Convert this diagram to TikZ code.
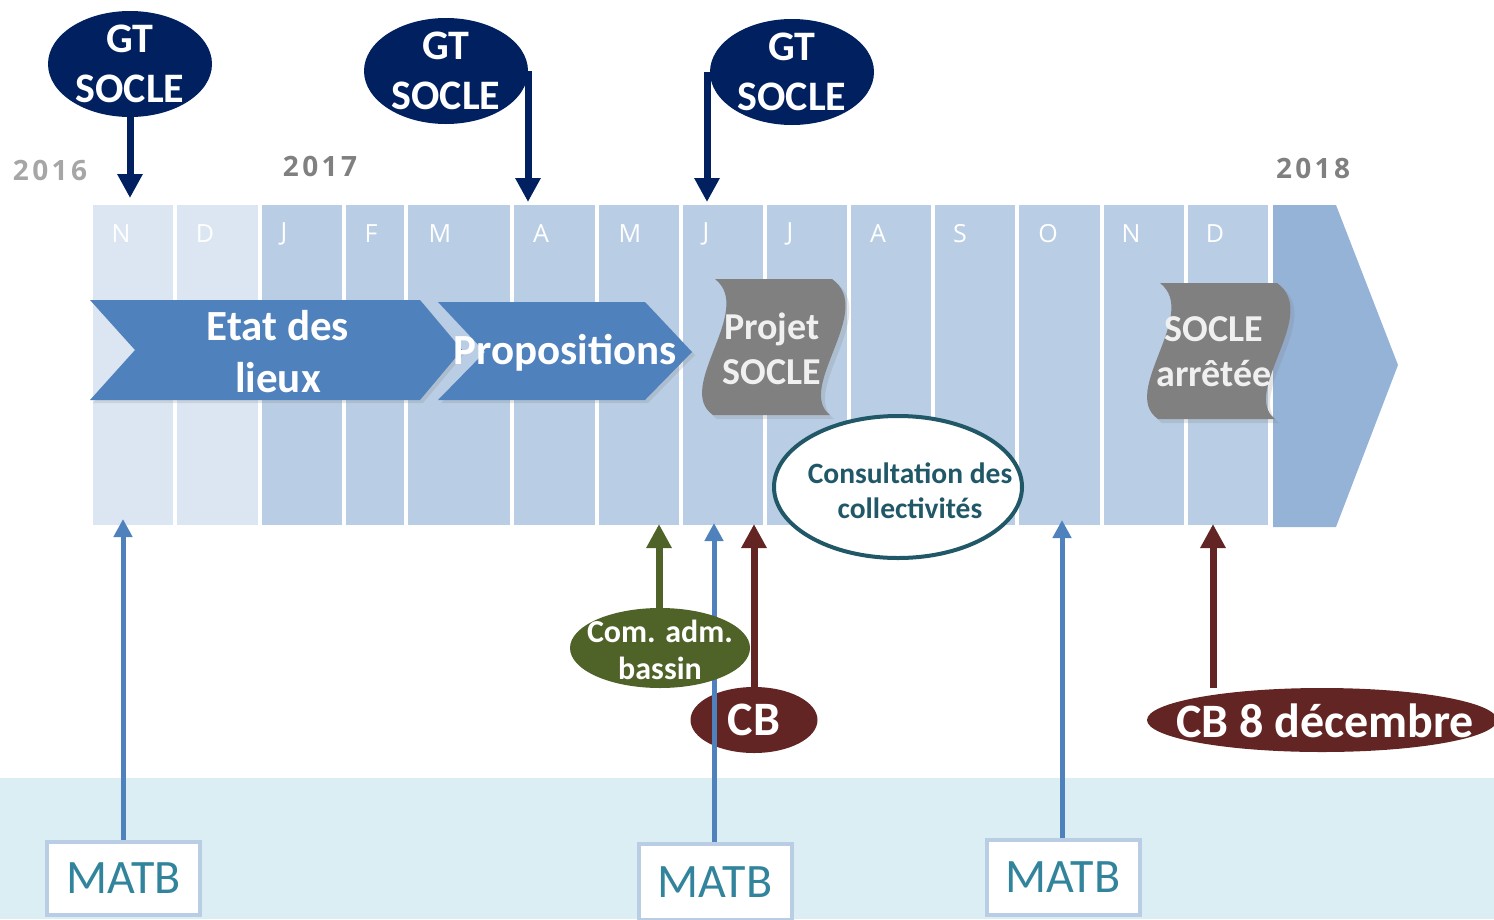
\documentclass[tikz,border=0pt]{standalone}
\usepackage{fontspec}
\setmainfont{Carlito}
\newfontfamily\monthfont{Open Sans}
\newfontfamily\yearfont[LetterSpace=12]{Open Sans}
\usetikzlibrary{arrows.meta, shapes.geometric, shadows}

\definecolor{gtblue}{HTML}{002060}
\definecolor{chevblue}{HTML}{4F81BD}
\definecolor{colblue}{HTML}{B9CDE5}
\definecolor{collight}{HTML}{DCE6F2}
\definecolor{endblue}{HTML}{95B3D7}
\definecolor{wavegrey}{HTML}{808080}
\definecolor{consteal}{HTML}{215868}
\definecolor{comgreen}{HTML}{4F6228}
\definecolor{cbred}{HTML}{632523}
\definecolor{bandblue}{HTML}{DBEEF4}
\definecolor{matbteal}{HTML}{31849B}

\begin{document}
\begin{tikzpicture}[x=1pt,y=-1pt,
    every node/.style={inner sep=0pt},
    month/.style={text=white, font=\monthfont\fontsize{25}{25}\selectfont},
    year/.style={font=\yearfont\bfseries\fontsize{28}{28}\selectfont},
    chev/.style={fill=chevblue, drop shadow={opacity=0.2, shadow xshift=3pt, shadow yshift=-3pt}},
    chevtext/.style={text=white, align=center, font=\bfseries\fontsize{43}{52}\selectfont},
    wave/.style={fill=wavegrey, drop shadow={opacity=0.2, shadow xshift=4pt, shadow yshift=-4pt}},
    wavetext/.style={text=white!94!black, align=center, font=\bfseries\fontsize{38}{45}\selectfont},
    gt/.style={ellipse, fill=gtblue, minimum width=164pt, minimum height=106pt},
    gttext/.style={text=white, align=center, font=\bfseries\fontsize{42}{50}\selectfont},
    gtarrow/.style={draw=gtblue, line width=7pt, -{Triangle[width=24pt,length=24pt]}},
    event/.style={ellipse, fill=#1},
    evtext/.style={text=white, align=center},
    evarrow/.style={draw=#1, line width=7pt, -{Triangle[width=24pt,length=24pt]}},
    matb/.style={draw=colblue, line width=4pt, fill=white, text=matbteal,
      minimum width=153pt, font=\fontsize{48}{48}\selectfont},
    matbarrow/.style={draw=chevblue, line width=5pt, -{Triangle[width=18pt,length=18pt]}}
  ]
  \useasboundingbox (0,0) rectangle (1494,919);

  % bande du bas
  \fill[bandblue] (0,778) rectangle (1494,919);

  % frise des mois
  \fill[colblue] (93,205) rectangle (1272,525);
  \fill[collight] (93,205) rectangle (260,525);
  \fill[endblue] (1273,205) -- (1336,205) -- (1398,365) -- (1336,527) -- (1273,527) -- cycle;
  \foreach \x in {175,260,344,406,512,597,681,765,849,933,1017,1102,1186,1270}
    \draw[white, line width=3.5pt] (\x,205) -- (\x,525);
  \foreach \x/\m in {121/N, 205/D, 284/J, 371/F, 440/M, 541/A, 630/M, 706/J,
                     790/J, 878/A, 960/S, 1048/O, 1131/N, 1215/D}
    \node[month] at (\x,234) {\m};

  \node[year, text=black!35] (y2016) at (50,170) {2016};
  \node[year, text=black!50] (y2017) at (320,166) {2017};
  \node[year, text=black!50] (y2018) at (1313,168) {2018};

  % phases
  \fill[chev] (90,300) -- (420,300) -- (462,350) -- (420,400) -- (90,400) -- (135,350) -- cycle;
  \fill[chev] (438,302) -- (645,302) -- (692,352) -- (645,400) -- (438,400) -- (485,352) -- cycle;
  \node[chevtext] (etat) at (278,352) {Etat des\\lieux};
  \node[chevtext] (prop) at (565,353) {Propositions};

  \fill[wave] (715,279) -- (832,279) .. controls (876,310) and (795,388) .. (830,415)
    -- (713,415) .. controls (674,388) and (755,310) .. (715,279) -- cycle;
  \begin{scope}[shift={(445,4)}]
    \fill[wave] (715,279) -- (832,279) .. controls (876,310) and (795,388) .. (830,415)
      -- (713,415) .. controls (674,388) and (755,310) .. (715,279) -- cycle;
  \end{scope}
  \node[wavetext] (projet) at (772,349) {Projet\\SOCLE};
  \node[wavetext] (arrete) at (1214,352) {SOCLE\\arrêtée};

  \node[ellipse, draw=consteal, line width=4pt, fill=white,
    minimum width=248pt, minimum height=142pt] (consult) at (898,487) {};
  \node[text=consteal, align=center, font=\bfseries\fontsize{29.5}{35}\selectfont]
    (consulttext) at (910,491) {Consultation des\\collectivités};

  % GT SOCLE
  \node[gt] (gt1) at (130,64) {};
  \node[gt] (gt2) at (446,71) {};
  \node[gt] (gt3) at (792,72) {};
  \node[gttext] at (gt1) {GT\\SOCLE};
  \node[gttext] at (gt2) {GT\\SOCLE};
  \node[gttext] at (gt3) {GT\\SOCLE};
  \coordinate (t1) at (130,198);
  \coordinate (t2) at (528,202);
  \coordinate (t3) at (707,202);
  \draw[gtarrow] (gt1.south) -- (t1);
  \draw[gtarrow] (t2 |- gt2.east) -- (t2);
  \draw[gtarrow] (t3 |- gt3.west) -- (t3);

  % CB
  \node[event=cbred, minimum width=127pt, minimum height=66pt] (cb) at (754,720) {};
  \node[event=cbred, minimum width=350pt, minimum height=64pt] (cb8) at (1322,720) {};
  \node[evtext, font=\bfseries\fontsize{48}{48}\selectfont] at (cb) {CB};
  \node[evtext, font=\bfseries\fontsize{48}{48}\selectfont] at (1325,721) {CB 8 décembre};
  \coordinate (tcb) at (754,524);
  \coordinate (tcb8) at (1213,524);
  \draw[evarrow=cbred] (tcb |- cb.north) -- (tcb);
  \draw[evarrow=cbred] (tcb8 |- cb8.north) -- (tcb8);

  % MATB
  \node[matb, minimum height=73pt] (matb1) at (123.5,878.5) {MATB};
  \node[matb, minimum height=76pt] (matb2) at (715,882) {MATB};
  \node[matb, minimum height=75pt] (matb3) at (1063,877.5) {MATB};
  \coordinate (tm1) at (123,519);
  \coordinate (tm2) at (714,523);
  \coordinate (tm3) at (1062,520);
  \draw[matbarrow] (tm1 |- matb1.north) -- (tm1);
  \draw[matbarrow] (tm2 |- matb2.north) -- (tm2);
  \draw[matbarrow] (tm3 |- matb3.north) -- (tm3);

  % comite
  \node[event=comgreen, minimum width=180pt, minimum height=80pt] (com) at (660,648) {};
  \node[evtext, align=center, font=\bfseries\fontsize{32}{37}\selectfont] at (660,650) {Com. adm.\\bassin};
  \coordinate (tcom) at (659,524);
  \draw[evarrow=comgreen] (tcom |- com.north) -- (tcom);
\end{tikzpicture}
\end{document}
